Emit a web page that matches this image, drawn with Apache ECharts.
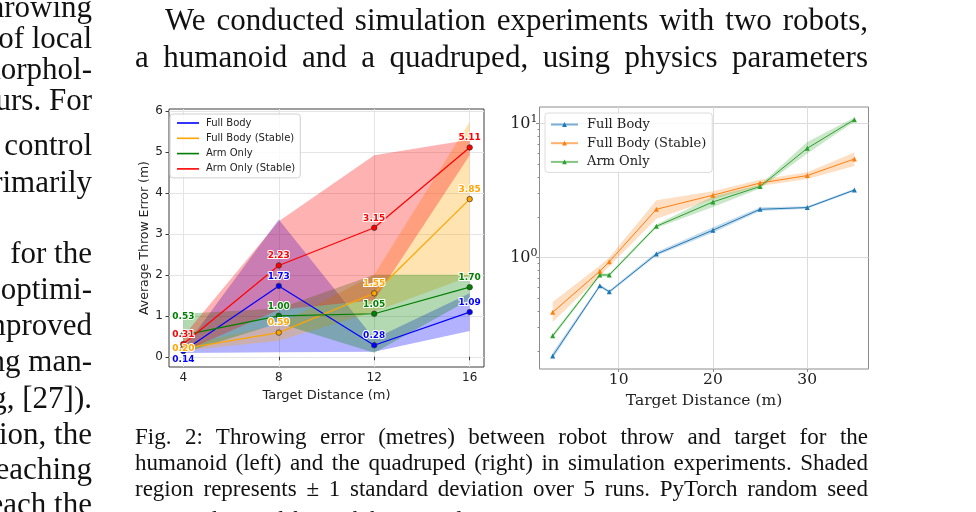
<!DOCTYPE html>
<html>
<head>
<meta charset="utf-8">
<title>Throwing error</title>
<script src="https://cdn.jsdelivr.net/npm/echarts@6.0.0/dist/echarts.min.js"></script>
<style>
html, body { margin: 0; padding: 0; background: #fff; }
#page { position: relative; width: 976px; height: 512px; overflow: hidden; background: #fff; }
#chart { position: absolute; left: 0; top: 0; width: 976px; height: 512px; }
.ln { position: absolute; white-space: nowrap; font-family: 'Liberation Serif', 'Times New Roman', serif; color: #111; line-height: 1; }
</style>
</head>
<body>
<div id="page"><div id="chart"></div></div>
<script>
// ---- left plot: humanoid ----
var dist1 = [4, 8, 12, 16];
var fullBody1 = [0.14, 1.73, 0.28, 1.09];
var fullBodyLo1 = [0.09, 0.11, 0.12, 0.63];
var fullBodyHi1 = [0.19, 3.35, 0.44, 1.55];
var fullStable1 = [0.20, 0.59, 1.55, 3.85];
var fullStableLo1 = [0.14, 0.39, 1.10, 1.96];
var fullStableHi1 = [0.26, 0.79, 2.00, 5.74];
var armOnly1 = [0.53, 1.00, 1.05, 1.70];
var armOnlyLo1 = [0.10, 0.82, 0.10, 1.40];
var armOnlyHi1 = [1.05, 1.18, 2.00, 2.00];
var armStable1 = [0.31, 2.23, 3.15, 5.11];
var armStableLo1 = [0.12, 1.15, 1.38, 4.92];
var armStableHi1 = [0.50, 3.31, 4.92, 5.30];
var xTicks1 = [4, 8, 12, 16];
var yTicks1 = [0, 1, 2, 3, 4, 5, 6];

// ---- right plot: quadruped ----
var dist2 = [3, 8, 9, 14, 20, 25, 30, 35];
var fullBody2 = [0.184, 0.614, 0.554, 1.06, 1.6, 2.29, 2.36, 3.19];
var fullBodyLo2 = [0.175, 0.60, 0.54, 1.03, 1.53, 2.22, 2.31, 3.12];
var fullBodyHi2 = [0.195, 0.63, 0.57, 1.10, 1.68, 2.37, 2.41, 3.26];
var fullStable2 = [0.39, 0.79, 0.93, 2.29, 2.92, 3.6, 4.09, 5.44];
var fullStableLo2 = [0.33, 0.72, 0.86, 1.95, 2.72, 3.42, 3.86, 4.83];
var fullStableHi2 = [0.466, 0.87, 1.0, 2.68, 3.12, 3.8, 4.34, 6.08];
var armOnly2 = [0.26, 0.74, 0.74, 1.71, 2.60, 3.39, 6.54, 10.7];
var armOnlyLo2 = [0.25, 0.72, 0.72, 1.66, 2.38, 3.28, 5.97, 10.3];
var armOnlyHi2 = [0.27, 0.76, 0.76, 1.76, 2.85, 3.50, 7.29, 11.1];
var xTicks2 = [10, 20, 30];
var yTicks2 = [1, 10];
var yMinor2 = [0.2, 0.3, 0.4, 0.5, 0.6, 0.7, 0.8, 0.9, 2, 3, 4, 5, 6, 7, 8, 9];

// ---- page text ----
var textLines = [
  { text: 'throwing', right: 92, base: 17, size: 31, align: 'right' },
  { text: 'of local', right: 92, base: 48, size: 31, align: 'right' },
  { text: 'morphol-', right: 92, base: 79, size: 31, align: 'right' },
  { text: 'behaviours. For', right: 92, base: 110, size: 31, align: 'right' },
  { text: 'control', right: 92, base: 155, size: 31, align: 'right' },
  { text: 'primarily', right: 92, base: 192, size: 31, align: 'right' },
  { text: 'for the', right: 92, base: 263, size: 31, align: 'right' },
  { text: 'optimi-', right: 92, base: 299, size: 31, align: 'right' },
  { text: 'improved', right: 92, base: 335, size: 31, align: 'right' },
  { text: 'using man-', right: 92, base: 371, size: 31, align: 'right' },
  { text: 'e.g, [27]).', right: 92, base: 408, size: 31, align: 'right' },
  { text: 'location, the', right: 92, base: 444, size: 31, align: 'right' },
  { text: 'reaching', right: 92, base: 479, size: 31, align: 'right' },
  { text: 'reach the', right: 92, base: 514, size: 31, align: 'right' },
  { text: 'We conducted simulation experiments with two robots,', left: 165, right: 868, base: 30, size: 31, align: 'justify' },
  { text: 'a humanoid and a quadruped, using physics parameters', left: 135, right: 868, base: 67, size: 31, align: 'justify' },
  { text: 'Fig. 2: Throwing error (metres) between robot throw and target for the', left: 135, right: 868, base: 444, size: 23, align: 'justify' },
  { text: 'humanoid (left) and the quadruped (right) in simulation experiments. Shaded', left: 135, right: 868, base: 470, size: 23, align: 'justify' },
  { text: 'region represents \u00b1 1 standard deviation over 5 runs. PyTorch random seed', left: 135, right: 868, base: 496, size: 23, align: 'justify' },
  { text: 'was randomised for each humanoid experiment.', left: 135, base: 527, size: 23, align: 'left' }
];

var page = document.getElementById('page');
textLines.forEach(function (t) {
  var el = document.createElement('div');
  el.className = 'ln';
  el.textContent = t.text;
  el.style.fontSize = t.size + 'px';
  el.style.top = (t.base - 0.8375 * t.size) + 'px';
  page.appendChild(el);
  var w = el.getBoundingClientRect().width;
  if (t.align === 'right') {
    el.style.left = (t.right - w) + 'px';
  } else if (t.align === 'justify') {
    var gaps = (t.text.match(/ /g) || []).length;
    var extra = t.right - t.left - w;
    el.style.left = t.left + 'px';
    if (extra > 0 && gaps) {
      el.style.wordSpacing = (extra / gaps) + 'px';
    } else if (extra < 0) {
      el.style.transformOrigin = '0 0';
      el.style.transform = 'scaleX(' + ((t.right - t.left) / w) + ')';
    }
  } else {
    el.style.left = t.left + 'px';
  }
});

// ---- chart ----
var chart = echarts.init(document.getElementById('chart'));

var colors1 = ['#0000ff', '#ffa500', '#008000', '#ff0000'];
var names1 = ['Full Body', 'Full Body (Stable)', 'Arm Only', 'Arm Only (Stable)'];
var means1 = [fullBody1, fullStable1, armOnly1, armStable1];
var lows1 = [fullBodyLo1, fullStableLo1, armOnlyLo1, armStableLo1];
var highs1 = [fullBodyHi1, fullStableHi1, armOnlyHi1, armStableHi1];
// labels at x=4 are nudged so they don't collide (same order as names1)
var firstLabel = [
  { position: 'bottom', distance: 1.5 },
  { position: 'inside', offset: [0, 1.5] },
  { position: 'top', distance: 11 },
  { position: 'top', distance: 1.5 }
];

var colors2 = ['#1f77b4', '#ff7f0e', '#2ca02c'];
var names2 = ['Full Body', 'Full Body (Stable)', 'Arm Only'];
var means2 = [fullBody2, fullStable2, armOnly2];
var lows2 = [fullBodyLo2, fullStableLo2, armOnlyLo2];
var highs2 = [fullBodyHi2, fullStableHi2, armOnlyHi2];

function pairs(xs, ys) {
  return xs.map(function (x, j) { return [x, ys[j]]; });
}

// shaded +-1 std region, drawn as one polygon through the axes' own scales
function bandSeries(xs, lo, hi, color, opacity, xi, yi) {
  return {
    type: 'custom', xAxisIndex: xi, yAxisIndex: yi, silent: true, z: 1,
    data: xs.map(function (x, j) { return [x, lo[j], hi[j]]; }),
    encode: { x: 0, y: [1, 2] },
    renderItem: function (params, api) {
      if (params.dataIndex !== 0) return null;
      var pts = [];
      for (var j = 0; j < xs.length; j++) pts.push(api.coord([xs[j], hi[j]]));
      for (var k = xs.length - 1; k >= 0; k--) pts.push(api.coord([xs[k], lo[k]]));
      return { type: 'polygon', shape: { points: pts }, style: { fill: color, opacity: opacity } };
    }
  };
}

var series = [];
names1.forEach(function (nm, i) {
  series.push(bandSeries(dist1, lows1[i], highs1[i], colors1[i], 0.3, 0, 0));
  series.push({
    name: nm, type: 'line', xAxisIndex: 0, yAxisIndex: 0, z: 5,
    data: dist1.map(function (x, j) {
      var d = { value: [x, means1[i][j]] };
      if (j === 0) d.label = firstLabel[i];
      return d;
    }),
    symbol: 'circle', symbolSize: 5.5,
    lineStyle: { color: colors1[i], width: 1.2 },
    itemStyle: { color: colors1[i], borderColor: '#333', borderWidth: 0.7 },
    labelLayout: { hideOverlap: false },
    label: {
      show: true, position: 'top', distance: 2, color: colors1[i],
      fontFamily: 'DejaVu Sans', fontWeight: 'bold', fontSize: 9,
      textBorderColor: '#fff', textBorderWidth: 2,
      formatter: function (p) { return p.value[1].toFixed(2); }
    }
  });
});
names2.forEach(function (nm, i) {
  series.push(bandSeries(dist2, lows2[i], highs2[i], colors2[i], 0.25, 1, 1));
  series.push({
    name: 'q:' + nm, type: 'line', xAxisIndex: 1, yAxisIndex: 1, z: 5,
    data: pairs(dist2, means2[i]),
    symbol: 'triangle', symbolSize: 5,
    lineStyle: { color: colors2[i], width: 1 },
    itemStyle: { color: colors2[i] }
  });
});

var sansTick = { fontFamily: 'DejaVu Sans', fontSize: 12, color: '#222' };
var serifTick = { fontFamily: 'DejaVu Serif', fontSize: 15.5, color: '#222' };

chart.setOption({
  animation: false,
  backgroundColor: 'transparent',
  grid: [
    { left: 169, top: 109, width: 315, height: 258, show: true, borderColor: '#3c3c3c', borderWidth: 1 },
    { left: 539.5, top: 107, width: 329, height: 262, show: true, borderColor: '#8c8c8c', borderWidth: 1 }
  ],
  legend: [{
    data: names1, orient: 'vertical', left: 170, top: 114,
    padding: [3, 5, 3, 7], itemGap: 3.3, itemWidth: 22, itemHeight: 1.6, icon: 'rect',
    itemStyle: { borderWidth: 0 },
    textStyle: { fontFamily: 'DejaVu Sans', fontSize: 10, color: '#222', lineHeight: 12, padding: [0, 0, 0, 2] },
    borderColor: '#d0d0d0', borderWidth: 1, borderRadius: 3,
    backgroundColor: 'rgba(255,255,255,0.8)', selectedMode: false
  }, {
    data: names2.map(function (n) { return 'q:' + n; }),
    formatter: function (n) { return n.slice(2); },
    orient: 'vertical', left: 545, top: 113,
    padding: [4, 6, 3, 5], itemGap: 3.7, itemWidth: 27, itemHeight: 6,
    lineStyle: { opacity: 0.6 },
    textStyle: { fontFamily: 'DejaVu Serif', fontSize: 13, color: '#222', lineHeight: 15, padding: [0, 0, 0, 4] },
    borderColor: '#dcdcdc', borderWidth: 1, borderRadius: 3,
    backgroundColor: 'rgba(255,255,255,0.8)', selectedMode: false
  }],
  xAxis: [{
    type: 'value', gridIndex: 0, min: 3.4, max: 16.6,
    name: 'Target Distance (m)', nameLocation: 'middle', nameGap: 18,
    nameTextStyle: { fontFamily: 'DejaVu Sans', fontSize: 13, color: '#222' },
    axisLine: { show: false },
    axisTick: { show: true, customValues: xTicks1, length: 3.5, lineStyle: { color: '#3c3c3c' } },
    axisLabel: Object.assign({ customValues: xTicks1, margin: 5 }, sansTick),
    splitLine: { show: true, lineStyle: { color: '#e4e4e4', width: 1 } }
  }, {
    type: 'value', gridIndex: 1, min: 1.6, max: 36.5,
    name: 'Target Distance (m)', nameLocation: 'middle', nameGap: 17,
    nameTextStyle: { fontFamily: 'DejaVu Serif', fontSize: 15.5, color: '#222' },
    axisLine: { show: false },
    axisTick: { show: true, customValues: xTicks2, length: 3, lineStyle: { color: '#8c8c8c' } },
    axisLabel: Object.assign({ customValues: xTicks2, margin: 3 }, serifTick),
    splitLine: { show: true, lineStyle: { color: '#dcdcdc', width: 1 } }
  }],
  yAxis: [{
    type: 'value', gridIndex: 0, min: -0.25, max: 6.05,
    name: 'Average Throw Error (m)', nameLocation: 'middle', nameGap: 16,
    nameTextStyle: { fontFamily: 'DejaVu Sans', fontSize: 12.5, color: '#222' },
    axisLine: { show: false },
    axisTick: { show: true, customValues: yTicks1, length: 3.5, lineStyle: { color: '#3c3c3c' } },
    axisLabel: Object.assign({ customValues: yTicks1, margin: 6 }, sansTick),
    splitLine: { show: true, lineStyle: { color: '#e4e4e4', width: 1 } }
  }, {
    type: 'log', logBase: 10, gridIndex: 1, min: 0.147, max: 13.3, position: 'left',
    axisLine: { show: false },
    axisTick: { show: true, customValues: yTicks2, length: 3.5, lineStyle: { color: '#8c8c8c' } },
    axisLabel: {
      customValues: yTicks2, margin: 2, color: '#222',
      formatter: function (v) { return '{b|10}{s|' + Math.round(Math.log10(v)) + '}'; },
      rich: {
        b: { fontFamily: 'DejaVu Serif', fontSize: 16, color: '#222' },
        s: { fontFamily: 'DejaVu Serif', fontSize: 11, color: '#222', padding: [0, 0, 9, 0] }
      }
    },
    splitLine: { show: true, lineStyle: { color: '#dcdcdc', width: 1 } }
  }, {
    type: 'log', logBase: 10, gridIndex: 1, min: 0.147, max: 13.3, position: 'left', offset: 0,
    axisLine: { show: false }, axisLabel: { show: false }, splitLine: { show: false },
    axisTick: { show: true, customValues: yMinor2, length: 2, lineStyle: { color: '#8c8c8c' } }
  }],
  series: series
});
</script>
</body>
</html>
